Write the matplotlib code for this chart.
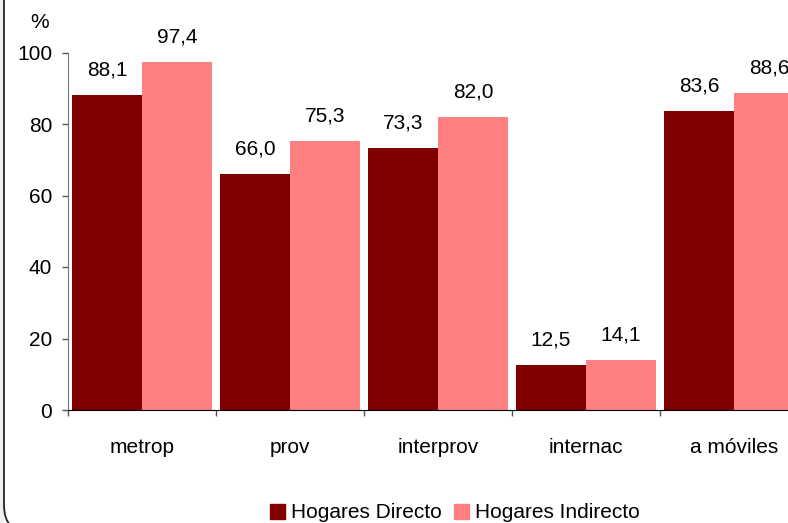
import matplotlib
matplotlib.use("Agg")
import matplotlib.pyplot as plt
from matplotlib.patches import FancyBboxPatch, Rectangle
import numpy as np

plt.rcParams['font.family'] = ['Liberation Sans', 'DejaVu Sans']

categories = ["metrop", "prov", "interprov", "internac", "a móviles"]
directo = [88.1, 66.0, 73.3, 12.5, 83.6]
indirecto = [97.4, 75.3, 82.0, 14.1, 88.6]
series_names = ["Hogares Directo", "Hogares Indirecto"]
colors = ["#800000", "#FF8080"]
yticks = [0, 20, 40, 60, 80, 100]

FS = 15
W, H = 788, 523
fig = plt.figure(figsize=(W / 100, H / 100), dpi=100)
fig.patch.set_facecolor("white")

# rounded frame (left/bottom visible)
fig.patches.append(Rectangle((0, 0), 4 / W, 1, transform=fig.transFigure,
                             facecolor="#f0f0f0", edgecolor="none", zorder=-3))
frame = FancyBboxPatch((4 / W, -10 / H), 900 / W, 600 / H,
                       boxstyle="round,pad=0,rounding_size=0.035",
                       transform=fig.transFigure, facecolor="white",
                       edgecolor="#222222", linewidth=1.3, zorder=-2,
                       mutation_aspect=W / H)
fig.patches.append(frame)

ax = fig.add_axes([68 / W, 113 / H, 740 / W, 357.5 / H])
ax.set_facecolor("none")
ax.set_zorder(1)

n = len(categories)
x = np.arange(n)
bw = 70 / 148
off = 4 / 148
b1 = ax.bar(x - 0.5 + off, directo, width=bw, align="edge", color=colors[0], label=series_names[0])
b2 = ax.bar(x - 0.5 + off + bw, indirecto, width=bw, align="edge", color=colors[1], label=series_names[1])

for bars, vals in ((b1, directo), (b2, indirecto)):
    for r, v in zip(bars, vals):
        ax.annotate(f"{v:.1f}".replace(".", ","),
                    (r.get_x() + r.get_width() / 2, r.get_height()),
                    xytext=(0, 18), textcoords="offset points",
                    ha="center", va="center", fontsize=FS, color="black",
                    annotation_clip=False)

ax.set_xlim(-0.5, n - 0.5)
ax.set_ylim(0, 100)
ax.set_yticks(yticks)
ax.set_yticklabels([str(t) for t in yticks])
ax.tick_params(axis="y", length=4.5, width=1, color="#555555", pad=7, labelsize=FS)

ax.set_xticks(np.arange(n + 1) - 0.5)
ax.set_xticklabels([])
ax.set_xticks(x, minor=True)
ax.set_xticklabels(categories, minor=True)
ax.tick_params(axis="x", which="major", length=4, width=1, color="#555555", direction="out")
ax.tick_params(axis="x", which="minor", length=0, pad=20, labelsize=FS)

for s in ("top", "right"):
    ax.spines[s].set_visible(False)
ax.spines["left"].set_color("#777777")
ax.spines["bottom"].set_color("black")

fig.text(40 / W, 1 - 22 / H, "%", ha="center", va="center", fontsize=FS)

handles = [Rectangle((0, 0), 1, 1, color=c) for c in colors]
fig.legend(handles, series_names, loc="center", bbox_to_anchor=(455 / W, 1 - 513 / H),
           ncol=2, frameon=False, fontsize=FS, handlelength=0.7, handleheight=0.7,
           handletextpad=0.3, columnspacing=0.6, borderaxespad=0)

fig.savefig("out.png", dpi=100)
